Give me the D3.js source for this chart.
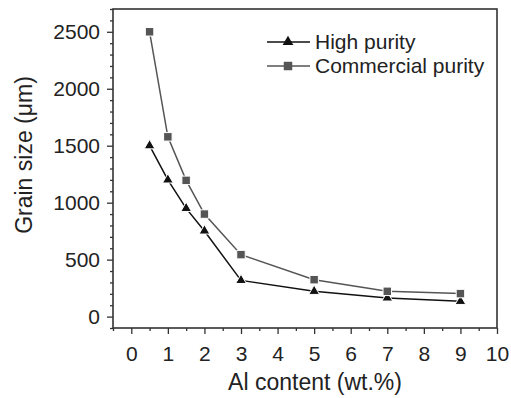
<!DOCTYPE html>
<html>
<head>
<meta charset="utf-8">
<script src="https://cdn.jsdelivr.net/npm/d3@7"></script>
<style>
  html, body { margin: 0; padding: 0; background: #fff; }
  svg { display: block; font-family: "Liberation Sans", Arial, sans-serif; }
</style>
</head>
<body>
<svg id="chart" width="511" height="398"></svg>
<script>
// Al content (wt.%) at which grain size was measured
const alContent = [0.5, 1, 1.5, 2, 3, 5, 7, 9];
// Grain size (µm) for each purity grade
const highPurity = [1500, 1200, 950, 752, 318, 222, 164, 134];
const commercialPurity = [2500, 1578, 1196, 900, 544, 324, 222, 202];
const seriesNames = ["High purity", "Commercial purity"];
const xTicks = [0, 1, 2, 3, 4, 5, 6, 7, 8, 9, 10];
const yTicks = [0, 500, 1000, 1500, 2000, 2500];

const svg = d3.select("#chart");
const plot = { left: 113, right: 497, top: 9, bottom: 328 };

const x = d3.scaleLinear().domain([-0.5, 10]).range([plot.left, plot.right]);
const y = d3.scaleLinear().domain([-100, 2700]).range([plot.bottom, plot.top]);

// Axes: major ticks with labels, minor ticks without
const xMinor = d3.range(-0.5, 10.01, 0.5).filter(v => Math.abs(v - Math.round(v)) > 0.01);
const yMinor = d3.range(-100, 2701, 100).filter(v => v % 500 !== 0);

const axisColor = "#333";
const textColor = "#222";

const gx = svg.append("g").attr("transform", `translate(0,${plot.bottom})`)
  .call(d3.axisBottom(x).tickValues(xMinor).tickSize(3).tickFormat(""));
gx.select(".domain").remove();
const gx2 = svg.append("g").attr("transform", `translate(0,${plot.bottom})`)
  .call(d3.axisBottom(x).tickValues(xTicks).tickSize(6).tickPadding(12).tickFormat(d3.format("d")));
gx2.select(".domain").remove();

const gy = svg.append("g").attr("transform", `translate(${plot.left},0)`)
  .call(d3.axisLeft(y).tickValues(yMinor).tickSize(3).tickFormat(""));
gy.select(".domain").remove();
const gy2 = svg.append("g").attr("transform", `translate(${plot.left},0)`)
  .call(d3.axisLeft(y).tickValues(yTicks).tickSize(6).tickPadding(7).tickFormat(d3.format("d")));
gy2.select(".domain").remove();

svg.selectAll(".tick line").attr("stroke", axisColor).attr("stroke-width", 1.3);
svg.selectAll(".tick text")
  .attr("fill", textColor)
  .style("font-size", "21px")
  .style("font-family", "'Liberation Sans', Arial, sans-serif");

// Plot frame
svg.append("rect")
  .attr("x", plot.left).attr("y", plot.top)
  .attr("width", plot.right - plot.left).attr("height", plot.bottom - plot.top)
  .attr("fill", "none").attr("stroke", axisColor).attr("stroke-width", 1.6);

// Axis titles
svg.append("text")
  .attr("x", 315).attr("y", 390)
  .attr("text-anchor", "middle")
  .attr("fill", textColor)
  .style("font-size", "23px")
  .text("Al content (wt.%)");

svg.append("text")
  .attr("transform", "translate(32,155) rotate(-90)")
  .attr("text-anchor", "middle")
  .attr("fill", textColor)
  .style("font-size", "23px")
  .text("Grain size (μm)");

// Series
const series = [
  { name: seriesNames[0], values: highPurity, line: "#111", fill: "#111", shape: d3.symbolTriangle, size: 50 },
  { name: seriesNames[1], values: commercialPurity, line: "#555", fill: "#555", shape: d3.symbolSquare, size: 72 }
];

const line = d3.line().x(d => x(d[0])).y(d => y(d[1]));

series.forEach(s => {
  const pts = alContent.map((a, i) => [a, s.values[i]]);
  svg.append("path")
    .datum(pts)
    .attr("d", line)
    .attr("fill", "none")
    .attr("stroke", s.line)
    .attr("stroke-width", 1.5);
  svg.append("g").selectAll("path")
    .data(pts)
    .join("path")
    .attr("transform", d => `translate(${x(d[0])},${y(d[1])})`)
    .attr("d", d3.symbol().type(s.shape).size(s.size))
    .attr("fill", s.fill)
    .attr("stroke", "#fff")
    .attr("stroke-width", 1);
});

// Legend
const legend = svg.append("g");
series.forEach((s, i) => {
  const ly = 42 + i * 24;
  legend.append("line")
    .attr("x1", 267).attr("x2", 310)
    .attr("y1", ly).attr("y2", ly)
    .attr("stroke", s.line).attr("stroke-width", 1.5);
  legend.append("path")
    .attr("transform", `translate(288,${ly})`)
    .attr("d", d3.symbol().type(s.shape).size(s.size))
    .attr("fill", s.fill);
  legend.append("text")
    .attr("x", 315).attr("y", ly + 6.5)
    .attr("fill", textColor)
    .style("font-size", "21px")
    .text(s.name);
});
</script>
</body>
</html>
